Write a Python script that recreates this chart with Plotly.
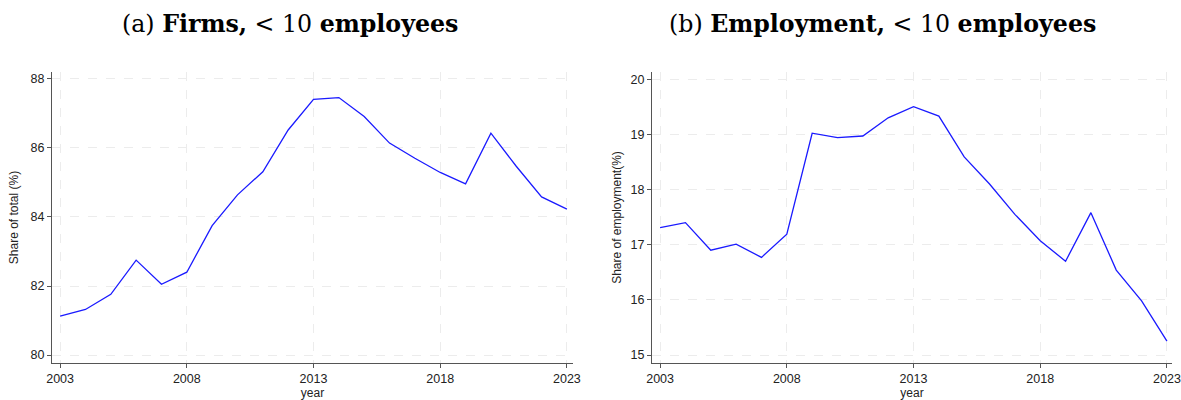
import plotly.graph_objects as go

years = list(range(2003, 2024))
firms_share = [81.13, 81.32, 81.76, 82.75, 82.05, 82.40, 83.75, 84.64, 85.31, 86.52,
               87.41, 87.46, 86.91, 86.14, 85.70, 85.29, 84.96, 86.43, 85.47, 84.58, 84.23]
emp_share = [17.31, 17.40, 16.90, 17.01, 16.77, 17.19, 19.02, 18.94, 18.97, 19.30,
             19.50, 19.33, 18.59, 18.10, 17.55, 17.07, 16.70, 17.58, 16.54, 15.98, 15.25]
x_ticks = [2003, 2008, 2013, 2018, 2023]
firms_ticks = [80, 82, 84, 86, 88]
emp_ticks = [15, 16, 17, 18, 19, 20]

W, H = 1181, 400
fig = go.Figure()
fig.add_trace(go.Scatter(x=years, y=firms_share, mode="lines",
                         line=dict(color="#1a1aff", width=1.3), xaxis="x", yaxis="y",
                         showlegend=False))
fig.add_trace(go.Scatter(x=years, y=emp_share, mode="lines",
                         line=dict(color="#1a1aff", width=1.3), xaxis="x2", yaxis="y2",
                         showlegend=False))

def px(v):
    return v / W
def py(v):
    return 1 - v / H

tickfont = dict(family="Liberation Sans, Arial", size=12.5, color="#222")
labfont = dict(family="Liberation Sans, Arial", size=12, color="#222")
axcommon = dict(showline=True, linecolor="#555", linewidth=1.3, ticks="outside",
                ticklen=4, tickcolor="#555", tickwidth=1.2, tickfont=tickfont,
                showgrid=True, gridcolor="#ececec", griddash="dash", gridwidth=1,
                zeroline=False, mirror=False, automargin=False)

fig.update_layout(
    width=W, height=H, margin=dict(l=0, r=0, t=0, b=0),
    paper_bgcolor="white", plot_bgcolor="white",
    xaxis=dict(domain=[px(52), px(573)], range=[2002.68, 2023.24], tickvals=x_ticks,
               anchor="y", title=dict(text="year", font=labfont, standoff=1),
               **axcommon),
    yaxis=dict(domain=[py(363), py(72)], range=[79.77, 88.2], tickvals=firms_ticks,
               anchor="x", title=dict(text="Share of total (%)", font=labfont, standoff=9),
               **axcommon),
    xaxis2=dict(domain=[px(652), px(1172)], range=[2002.68, 2023.2], tickvals=x_ticks,
                anchor="y2", title=dict(text="year", font=labfont, standoff=1),
                **axcommon),
    yaxis2=dict(domain=[py(363), py(72)], range=[14.855, 20.13], tickvals=emp_ticks,
                anchor="x2", title=dict(text="Share of employment(%)", font=labfont, standoff=6),
                **axcommon),
)

titlefont = dict(family="DejaVu Serif, serif", size=23.7, color="black")
fig.add_annotation(text="(a) <b>Firms,</b> &lt; 10 <b>employees</b>", x=px(289.5), y=py(24),
                   xref="paper", yref="paper", showarrow=False, font=titlefont,
                   xanchor="center", yanchor="middle")
fig.add_annotation(text="(b) <b>Employment,</b> &lt; 10 <b>employees</b>", x=px(882.5), y=py(24),
                   xref="paper", yref="paper", showarrow=False, font=titlefont,
                   xanchor="center", yanchor="middle")

fig.write_html("out.html")
